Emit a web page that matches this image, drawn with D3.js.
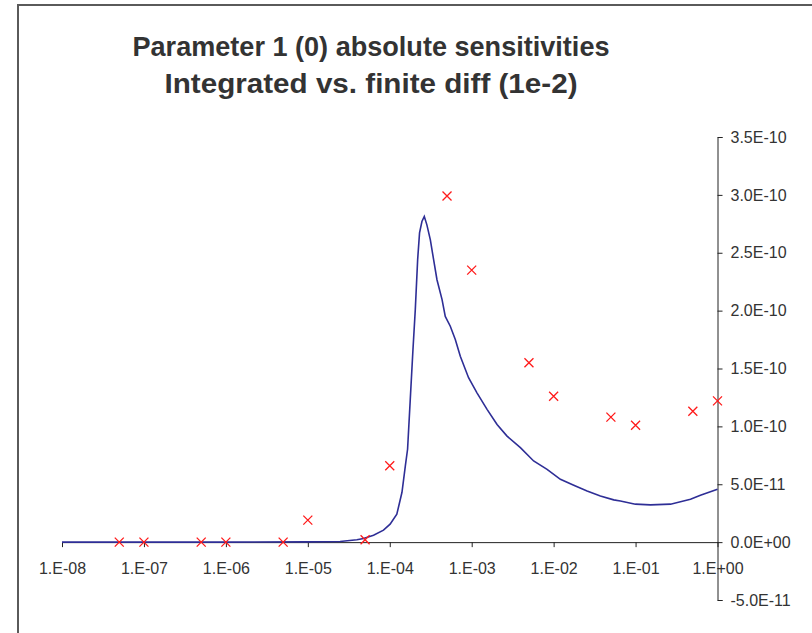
<!DOCTYPE html>
<html>
<head>
<meta charset="utf-8">
<script src="https://cdn.jsdelivr.net/npm/d3@7"></script>
<style>
  body { margin: 0; background: #fff; }
  text { font-family: "Liberation Sans", Arial, sans-serif; fill: #333; }
</style>
</head>
<body>
<div id="chart"></div>
<script>
// integrated sensitivity curve (x, value)
const lineX = [1e-8, 1e-6, 1e-5, 2.48e-5, 3.97e-5, 4.79e-5, 6.34e-5, 8.39e-5, 1.01e-4, 1.22e-4,
  1.41e-4, 1.55e-4, 1.65e-4, 1.78e-4, 1.92e-4, 2.05e-4, 2.19e-4, 2.31e-4, 2.47e-4, 2.64e-4,
  2.84e-4, 3.13e-4, 3.43e-4, 3.77e-4, 4.35e-4, 4.76e-4, 5.48e-4, 6.31e-4, 7.26e-4, 9.16e-4,
  1.16e-3, 1.54e-3, 2.04e-3, 2.70e-3, 3.93e-3, 5.70e-3, 8.32e-3, 1.21e-2, 1.76e-2, 2.56e-2,
  3.72e-2, 5.41e-2, 6.53e-2, 9.95e-2, 0.152, 0.267, 0.468, 0.619, 1];
const lineY = [0, 0, 0.02e-11, 0.05e-11, 0.2e-11, 0.32e-11, 0.6e-11, 1.03e-11, 1.55e-11, 2.41e-11,
  4.31e-11, 6.58e-11, 8.02e-11, 12.33e-11, 16.64e-11, 20.09e-11, 24.4e-11, 26.72e-11, 27.7e-11, 28.13e-11,
  27.41e-11, 26.12e-11, 24.4e-11, 22.67e-11, 20.95e-11, 19.5e-11, 18.65e-11, 17.5e-11, 16.06e-11, 14.2e-11,
  12.9e-11, 11.47e-11, 10.17e-11, 9.16e-11, 8.16e-11, 7.01e-11, 6.29e-11, 5.43e-11, 4.91e-11, 4.42e-11,
  3.99e-11, 3.65e-11, 3.56e-11, 3.28e-11, 3.22e-11, 3.28e-11, 3.71e-11, 4.05e-11, 4.57e-11];

// finite difference points
const fdX = [5e-8, 1e-7, 5e-7, 1e-6, 5e-6, 1e-5, 5e-5, 1e-4, 5e-4, 1e-3, 5e-3, 1e-2, 5e-2, 1e-1, 5e-1, 1];
const fdY = [0, 0, 0, 0, 0, 1.9e-11, 0.2e-11, 6.6e-11, 29.9e-11, 23.5e-11, 15.5e-11, 12.6e-11, 10.8e-11, 10.1e-11, 11.3e-11, 12.2e-11];

const xTicks = [1e-8, 1e-7, 1e-6, 1e-5, 1e-4, 1e-3, 1e-2, 1e-1, 1];
const xTickLabels = ["1.E-08", "1.E-07", "1.E-06", "1.E-05", "1.E-04", "1.E-03", "1.E-02", "1.E-01", "1.E+00"];
const yTicks = [-5e-11, 0, 5e-11, 1e-10, 1.5e-10, 2e-10, 2.5e-10, 3e-10, 3.5e-10];
const yTickLabels = ["-5.0E-11", "0.0E+00", "5.0E-11", "1.0E-10", "1.5E-10", "2.0E-10", "2.5E-10", "3.0E-10", "3.5E-10"];

const titleLines = ["Parameter 1 (0) absolute sensitivities", "Integrated vs. finite diff (1e-2)"];
const titleWidths = [477, 413];

const width = 812, height = 633;

const svg = d3.select("#chart")
  .append("svg")
  .attr("width", width)
  .attr("height", height);

// chart frame (runs off the right and bottom of the picture)
svg.append("rect")
  .attr("x", 18).attr("y", 5)
  .attr("width", 900).attr("height", 800)
  .attr("fill", "none")
  .attr("stroke", "#5a5a5a")
  .attr("stroke-width", 2);

const x = d3.scaleLog().domain([1e-8, 1]).range([62, 717.5]);
const y = d3.scaleLinear().domain([-5e-11, 3.5e-10]).range([600, 137]);

// title
svg.selectAll(".title")
  .data(titleLines)
  .join("text")
  .attr("class", "title")
  .attr("x", 371)
  .attr("y", (d, i) => 56 + i * 37)
  .attr("text-anchor", "middle")
  .attr("textLength", (d, i) => titleWidths[i])
  .attr("lengthAdjust", "spacingAndGlyphs")
  .style("font-size", "28px")
  .style("font-weight", "bold")
  .text(d => d);

// x axis on the zero line
const xAxis = d3.axisBottom(x)
  .tickValues(xTicks)
  .tickFormat((d, i) => xTickLabels[i])
  .tickSize(5)
  .tickPadding(16)
  .tickSizeOuter(0);

const gx = svg.append("g")
  .attr("transform", `translate(0,${y(0)})`)
  .call(xAxis);
gx.select(".domain").attr("stroke", "#222");
gx.selectAll(".tick line").attr("stroke", "#222");
gx.selectAll(".tick text")
  .style("font-size", "16px")
  .attr("fill", "#333");

// y axis on the right
const yAxis = d3.axisRight(y)
  .tickValues(yTicks)
  .tickFormat((d, i) => yTickLabels[i])
  .tickSize(5)
  .tickPadding(8)
  .tickSizeOuter(5);

const gy = svg.append("g")
  .attr("transform", `translate(${x(1)},0)`)
  .call(yAxis);
gy.select(".domain").attr("stroke", "#222");
gy.selectAll(".tick line").attr("stroke", "#222");
gy.selectAll(".tick text")
  .style("font-size", "16px")
  .attr("fill", "#333");

// integrated curve
const line = d3.line()
  .x(d => x(d[0]))
  .y(d => y(d[1]));

svg.append("path")
  .datum(lineX.map((v, i) => [v, lineY[i]]))
  .attr("d", line)
  .attr("fill", "none")
  .attr("stroke", "#2e2e96")
  .attr("stroke-width", 1.6);

// finite diff markers
const s = 4.5;
svg.selectAll(".fd")
  .data(fdX.map((v, i) => [v, fdY[i]]))
  .join("path")
  .attr("class", "fd")
  .attr("d", d => {
    const cx = x(d[0]), cy = y(d[1]);
    return `M${cx - s},${cy - s}L${cx + s},${cy + s}M${cx - s},${cy + s}L${cx + s},${cy - s}`;
  })
  .attr("stroke", "#ff1a1a")
  .attr("stroke-width", 1.3)
  .attr("fill", "none");
</script>
</body>
</html>
